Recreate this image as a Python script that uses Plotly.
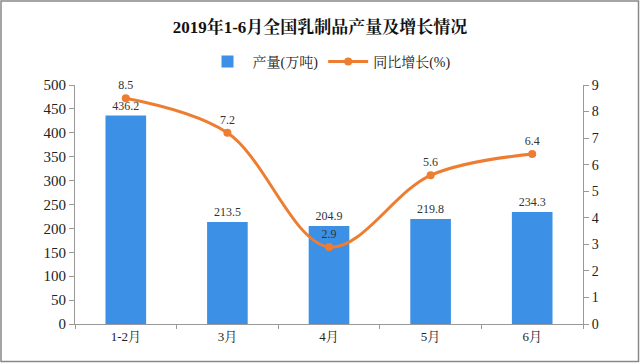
import plotly.graph_objects as go

categories = ["1-2月", "3月", "4月", "5月", "6月"]
production = [436.2, 213.5, 204.9, 219.8, 234.3]
growth = [8.5, 7.2, 2.9, 5.6, 6.4]

FONT = "Liberation Serif, Noto Serif CJK SC, Noto Sans CJK SC, serif"
BLUE = "#3C91E6"
ORANGE = "#ED7D31"

fig = go.Figure()
fig.add_trace(go.Bar(
    x=categories, y=production, name="产量(万吨)",
    marker=dict(color=BLUE, line=dict(width=0)),
    text=[f"{v:.1f}" for v in production], textposition="outside",
    textfont=dict(size=12, color="#333333", family=FONT),
    cliponaxis=False,
))
fig.add_trace(go.Scatter(
    x=categories, y=growth, name="同比增长(%)", yaxis="y2",
    mode="lines+markers+text",
    line=dict(color=ORANGE, width=3, shape="spline", smoothing=1.0),
    marker=dict(color=ORANGE, size=8),
    text=[f"{v:.1f}" for v in growth], textposition="top center",
    textfont=dict(size=12, color="#333333", family=FONT),
    cliponaxis=False,
))

l, r, t, b = 75, 57, 85, 39
pw, ph = 640 - l - r, 363 - t - b

fig.update_layout(
    width=640, height=363,
    margin=dict(l=l, r=r, t=t, b=b),
    paper_bgcolor="white", plot_bgcolor="white",
    font=dict(family=FONT, color="#222222", size=13),
    title=dict(text="<b>2019年1-6月全国乳制品产量及增长情况</b>", x=0.5, xanchor="center",
               y=1 - 27 / 363, yanchor="middle",
               font=dict(size=17, family=FONT, color="#111111")),
    legend=dict(orientation="h", x=0.5, xanchor="center", y=1 + 23 / ph, yanchor="middle",
                font=dict(size=14, family=FONT), itemwidth=40, bgcolor="rgba(0,0,0,0)"),
    bargap=0.6,
    showlegend=True,
    xaxis=dict(showline=True, linecolor="#999999", linewidth=1, ticks="outside",
               tickson="boundaries", ticklen=4, tickcolor="#999999",
               tickfont=dict(size=13, family=FONT), showgrid=False),
    yaxis=dict(range=[0, 500], dtick=50, showline=True, linecolor="#999999", linewidth=1,
               ticks="outside", ticklen=5, tickcolor="#999999", showgrid=False,
               zeroline=False, tickfont=dict(size=15, family=FONT)),
    yaxis2=dict(range=[0, 9], dtick=1, overlaying="y", side="right", showline=True,
                linecolor="#999999", linewidth=1, ticks="outside", ticklen=5,
                tickcolor="#999999", showgrid=False, zeroline=False,
                tickfont=dict(size=14, family=FONT)),
    shapes=[dict(type="rect", xref="paper", yref="paper",
                 x0=-(l - 1) / pw, x1=1 + (r - 1.5) / pw,
                 y0=-(b - 1.5) / ph, y1=1 + (t - 1) / ph,
                 line=dict(color="#888888", width=1.5))],
)

fig.write_html("out.html", config={"displayModeBar": False},
               post_script="document.body.style.margin='0';document.body.style.padding='0';")
